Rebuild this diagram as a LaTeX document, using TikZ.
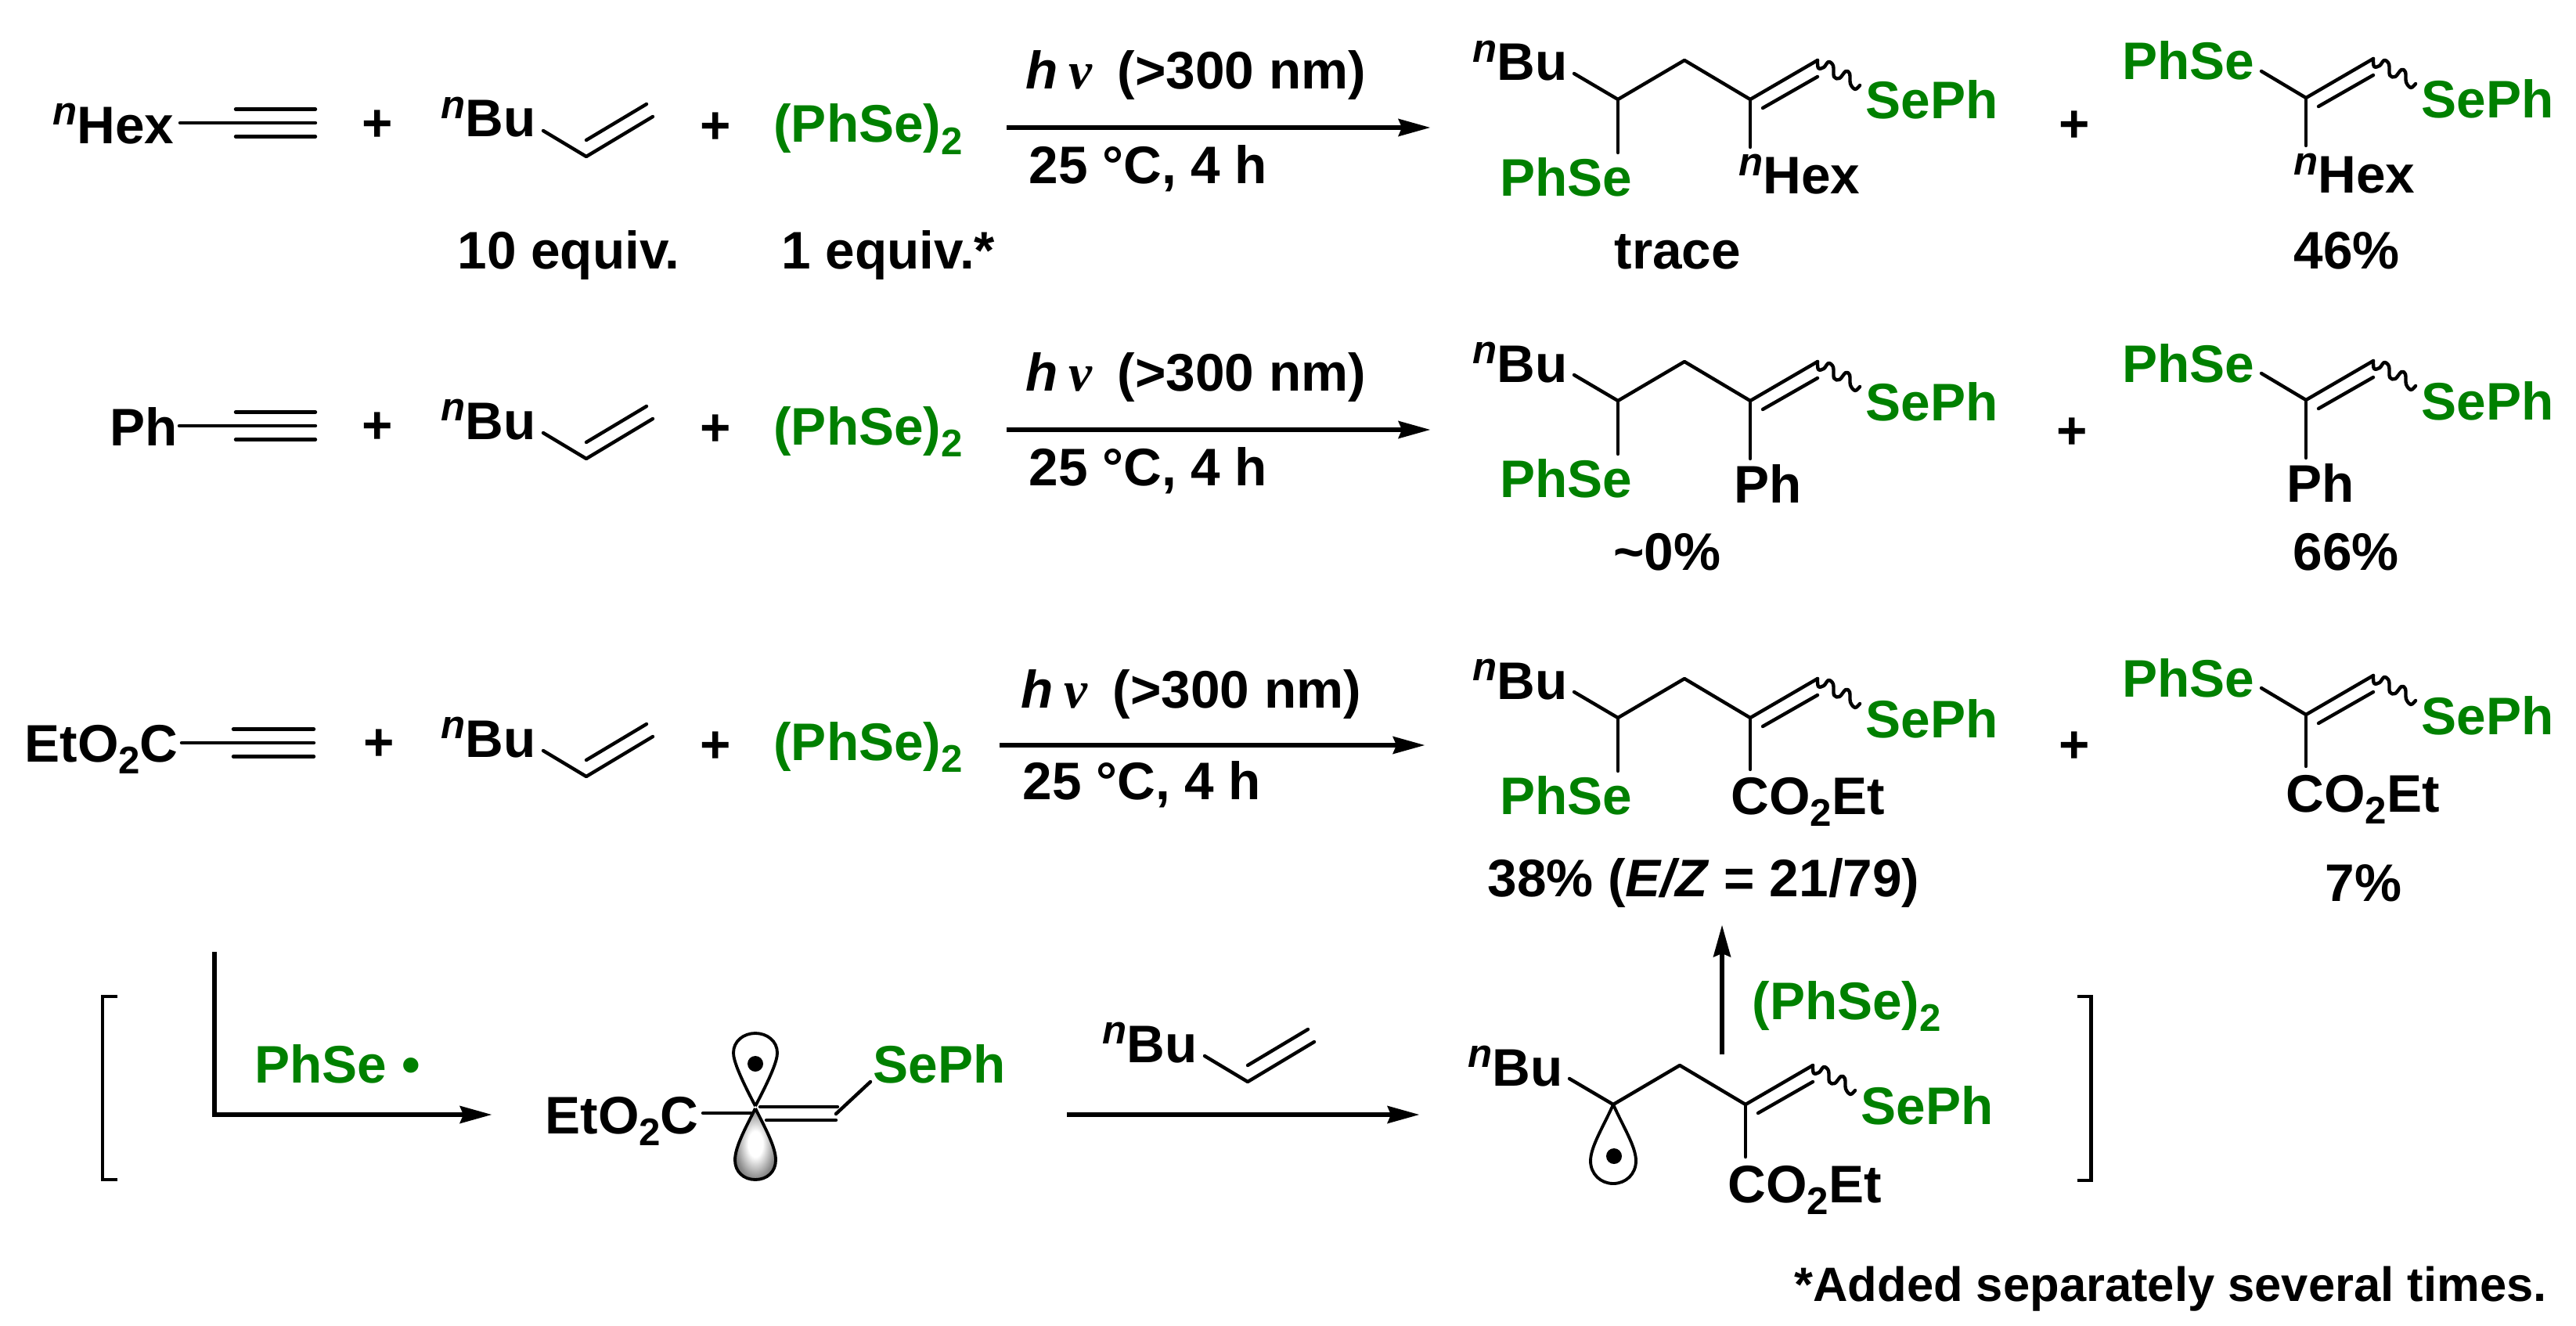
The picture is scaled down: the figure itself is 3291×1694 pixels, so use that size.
\documentclass[tikz,border=0pt]{standalone}
\usepackage{fontspec}
\setmainfont{Liberation Sans}
\newfontfamily\nufont{Liberation Serif}
\usetikzlibrary{arrows.meta}
\definecolor{segreen}{RGB}{0,128,0}
\pgfdeclareradialshading{lobeshade}{\pgfpoint{0bp}{0bp}}{color(0bp)=(white); color(9bp)=(white); color(24bp)=(black!45); color(40bp)=(black!82); color(100bp)=(black!85)}

\newcommand{\nsup}{\raisebox{6.8pt}{\fontsize{14.5}{15}\selectfont\itshape n}}
\newcommand{\ntwo}{\raisebox{-4.5pt}{\fontsize{14}{15}\selectfont 2}}

% alkyne: name, bond start, short lines start, end, height
\newcommand{\alkyne}[5]{
  \coordinate (#1a) at (#2,#5);
  \coordinate (#1c) at (#4,#5);
  \coordinate (#1d) at (#3,#5-17.5);
  \coordinate (#1e) at (#4,#5-17.5);
  \coordinate (#1f) at (#3,#5+17.5);
  \coordinate (#1g) at (#4,#5+17.5);
  \draw[bond] (#1a) -- (#1c);
  \draw[bond] (#1d) -- (#1e);
  \draw[bond] (#1f) -- (#1g);
}
% butyl alkene: name, vertex
\newcommand{\buene}[3]{
  \begin{scope}[shift={(#2,#3)}]
  \node[lab] (#1bu) at (-183,-25) {\nsup Bu};
  \coordinate (#1p) at (-55,-33);
  \coordinate (#1q) at (0,0);
  \coordinate (#1r) at (85,-51);
  \coordinate (#1s) at (0,-21);
  \coordinate (#1t) at (77,-67);
  \draw[bond] (#1p) -- (#1q) -- (#1r);
  \draw[bond] (#1s) -- (#1t);
  \end{scope}
}
% vinyl selenide with wavy bond: name, central carbon
\newcommand{\vinylse}[3]{
  \begin{scope}[shift={(#2,#3)}]
  \coordinate (#1c) at (0,0);
  \coordinate (#1v) at (86,-50);
  \coordinate (#1i) at (16,11);
  \coordinate (#1j) at (86,-29);
  \draw[bond] (#1c) -- (#1v);
  \draw[bond] (#1i) -- (#1j);
  \draw[bond] plot[smooth,tension=0.6] coordinates {(86,-50) (87,-40) (94,-41) (100,-48) (106,-43) (107,-29) (114,-27) (122,-36) (127,-33) (128,-20) (134,-13) (140,-18)};
  \node[selab] (#1se) at (150,25) {SePh};
  \end{scope}
}
% butyl chain on the left of the central carbon
\newcommand{\buchain}[3]{
  \begin{scope}[shift={(#2,#3)}]
  \coordinate (#1h) at (-84,-50);
  \coordinate (#1k) at (-169,0);
  \coordinate (#1m) at (-225,-33);
  \draw[bond] (#1c) -- (#1h) -- (#1k) -- (#1m);
  \node[lab] (#1bu) at (-352,-24) {\nsup Bu};
  \end{scope}
}

\begin{document}
\begin{tikzpicture}[x=0.01cm,y=-0.01cm,
  font=\fontsize{19.2}{22}\selectfont\bfseries,
  lab/.style={anchor=base west,inner sep=0pt,outer sep=0pt,xshift=-0.025cm},
  selab/.style={lab,text=segreen},
  pluslab/.style={anchor=center,inner sep=0pt,yshift=-0.04cm},
  bond/.style={line width=1.25pt,line cap=round,line join=round},
  rxn/.style={line width=1.5pt,-{Stealth[length=4.1mm,width=2.3mm,inset=0.5mm,line width=0pt]}},
  brk/.style={line width=1.4pt},
  lobe/.style={line width=1.1pt},
  radical/.style={circle,fill=black,inner sep=0pt,minimum size=0.2cm}]

\useasboundingbox (0,0) rectangle (3291,1694);

%alkynes
  \node[lab] (hex) at (70,183) {\nsup Hex};
  \alkyne{ya}{230}{301}{403}{157}
  \node[lab] (ph) at (143,569) {Ph};
  \alkyne{yb}{229}{301}{403}{544}
  \node[lab] (eto) at (34,973) {EtO\ntwo C};
  \alkyne{yc}{232}{298}{401}{949}

%alkene and diselenide in each row
  \foreach \rw/\plx/\ply/\qy/\vy/\sy in {a/482/157/160/200/182, b/482/543/546/586/568, c/484/948/951/992/971} {
    \node[pluslab] (plus\rw) at (\plx,\ply) {+};
    \buene{e\rw}{749}{\vy}
    \node[pluslab] (plusb\rw) at (914,\qy) {+};
    \node[selab] (se\rw) at (991,\sy) {(PhSe)\ntwo};
  }
  \node[lab] (eqa) at (587,343) {10 equiv.};
  \node[lab] (eqb) at (1001,343) {1 equiv.*};

%reaction arrows
  \foreach \rw/\ax/\bx/\ay/\hx/\hy/\tx/\cy in {a/1286/1827/163/1313/114/1317/235, b/1286/1827/549/1313/499/1317/620, c/1277/1820/952/1307/904/1309/1021} {
    \coordinate (s\rw) at (\ax,\ay);
    \coordinate (t\rw) at (\bx,\ay);
    \draw[rxn] (s\rw) -- (t\rw);
    \node[lab] (hv\rw) at (\hx,\hy) {\textit{h}\hspace{4pt}{\nufont\itshape ν}\hspace{3.8pt} (>300 nm)};
    \node[lab] (cond\rw) at (\tx,\cy) {25 °C, 4 h};
  }

%first product of each row
  \foreach \rw/\vy in {a/127, b/512, c/917} {
    \vinylse{p\rw}{2236}{\vy}
    \buchain{p\rw}{2236}{\vy}
    \node[selab] (ps\rw) at (1919,\vy+123) {PhSe};
    \coordinate (pz\rw) at (2067,\vy+68);
    \draw[bond] (p\rw k) -- (pz\rw);
  }
  \node[lab] (hexa) at (2224,248) {\nsup Hex};
  \coordinate (xa) at (2236,188);
  \draw[bond] (pac) -- (xa);
  \node[lab] (pha) at (2218,642) {Ph};
  \coordinate (xb) at (2236,586);
  \draw[bond] (pbc) -- (xb);
  \node[lab] (coa) at (2214,1040) {CO\ntwo Et};
  \coordinate (xc) at (2236,983);
  \draw[bond] (pcc) -- (xc);

%second product of each row
  \foreach \rw/\vy in {a/125, b/511, c/913} {
    \vinylse{q\rw}{2946}{\vy}
    \node[selab] (qs\rw) at (2714,\vy-23) {PhSe};
    \coordinate (qm\rw) at (2889,\vy-34);
    \draw[bond] (q\rw c) -- (qm\rw);
  }
  \node[lab] (hexb) at (2933,247) {\nsup Hex};
  \coordinate (za) at (2946,186);
  \draw[bond] (qac) -- (za);
  \node[lab] (phb) at (2924,641) {Ph};
  \coordinate (zb) at (2946,585);
  \draw[bond] (qbc) -- (zb);
  \node[lab] (cob) at (2923,1037) {CO\ntwo Et};
  \coordinate (zc) at (2946,979);
  \draw[bond] (qcc) -- (zc);

  \foreach \x/\y/\t in {2650/158/a, 2647/550/b, 2650/951/c}
    \node[pluslab] (mid\t) at (\x,\y) {+};

%yields
  \node[lab] (ya1) at (2065,343) {trace};
  \node[lab] (ya2) at (2933,343) {46\%};
  \node[lab] (yb1) at (2064,728) {\textasciitilde 0\%};
  \node[lab] (yb2) at (2932,728) {66\%};
  \node[lab] (yc1) at (1903,1145) {38\% (\textit{E/Z} = 21/79)};
  \node[lab] (yc2) at (2973,1151) {7\%};

%brackets
  \coordinate (lbt) at (150,1273);
  \coordinate (lbb) at (150,1507);
  \draw[brk] (lbt) -- ++(-19,0) |- (lbb);
  \coordinate (rbt) at (2654,1273);
  \coordinate (rbb) at (2654,1508);
  \draw[brk] (rbt) -- ++(17,0) |- (rbb);

%mechanism
  \coordinate (ela) at (274,1216);
  \coordinate (elb) at (628,1424);
  \draw[rxn] (ela) |- (elb);
  \node[selab] (rad) at (328,1383) {PhSe •};

  \node[lab] (etob) at (699,1448) {EtO\ntwo C};
  \coordinate (ca) at (898,1422);
  \coordinate (cb) at (965,1422);
  \draw[bond] (ca) -- (cb);
  \coordinate (da) at (971,1414);
  \coordinate (db) at (1070,1414);
  \coordinate (dc) at (979,1431);
  \coordinate (dd) at (1068,1431);
  \draw[bond] (da) -- (db);
  \draw[bond] (dc) -- (dd);
  \coordinate (de) at (1068,1423);
  \coordinate (df) at (1112,1382);
  \draw[bond] (de) -- (df);
  \node[selab] (sem) at (1118,1383) {SePh};

  \draw[lobe,fill=white] (965,1413) .. controls (945,1375) and (937,1355) .. (937,1345) .. controls (937,1330) and (950,1320) .. (965,1320) .. controls (980,1320) and (993,1330) .. (993,1345) .. controls (993,1355) and (985,1375) .. (965,1413);
  \node[radical] (doa) at (965,1359) {};
  \shadedraw[lobe,shading=lobeshade] (965,1416) .. controls (953,1440) and (939,1465) .. (939,1482) .. controls (939,1497) and (950,1507) .. (965,1507) .. controls (980,1507) and (991,1497) .. (991,1482) .. controls (991,1465) and (977,1440) .. (965,1416);

  \coordinate (ga) at (1363,1424);
  \coordinate (gb) at (1813,1424);
  \draw[rxn] (ga) -- (gb);
  \buene{m}{1594}{1382}

  \vinylse{r}{2230}{1411}
  \buchain{r}{2230}{1411}
  \coordinate (rz) at (2230,1478);
  \draw[bond] (rc) -- (rz);
  \node[lab] (cor) at (2210,1536) {CO\ntwo Et};
  \draw[lobe] (2061,1411) .. controls (2048,1440) and (2032,1465) .. (2032,1483) .. controls (2032,1500) and (2045,1512) .. (2061,1512) .. controls (2077,1512) and (2090,1500) .. (2090,1483) .. controls (2090,1465) and (2074,1440) .. (2061,1411);
  \node[radical] (dob) at (2062,1477) {};

  \coordinate (ua) at (2200,1347);
  \coordinate (ub) at (2200,1182);
  \draw[rxn] (ua) -- (ub);
  \node[selab] (seu) at (2241,1302) {(PhSe)\ntwo};

  \node[lab,font=\fontsize{17.5}{20}\selectfont\bfseries] (note) at (2295,1662) {*Added separately several times.};

\end{tikzpicture}
\end{document}
